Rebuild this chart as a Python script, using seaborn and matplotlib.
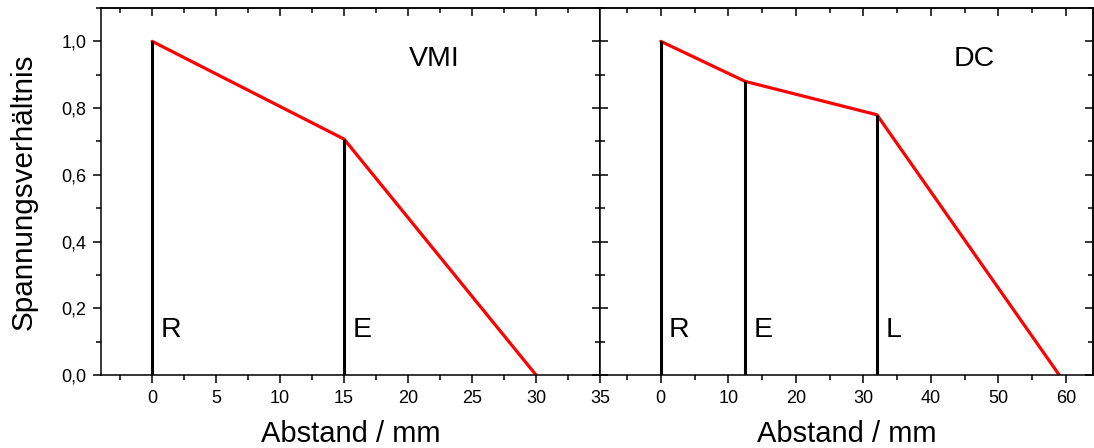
import numpy as np
import matplotlib
matplotlib.use('Agg')
import matplotlib.pyplot as plt
import seaborn as sns
from matplotlib.ticker import MultipleLocator, FuncFormatter, NullFormatter

# values
vmi_x = [0, 15, 30]
vmi_y = [1.0, 0.707, 0.0]
vmi_lines = [0, 15]
vmi_names = ['R', 'E']

dc_x = [0, 12.5, 32, 59]
dc_y = [1.0, 0.88, 0.78, 0.0]
dc_lines = [0, 12.5, 32]
dc_names = ['R', 'E', 'L']

sns.set_theme(style='ticks')
plt.rcParams['font.family'] = ['Liberation Sans', 'DejaVu Sans']

W, H = 1094, 448
fig = plt.figure(figsize=(W / 100, H / 100), dpi=100)


def box(l, r, t, b):
    return [l / W, 1 - b / H, (r - l) / W, (b - t) / H]


comma = FuncFormatter(lambda v, p: f'{v:.1f}'.replace('.', ','))


def panel(ax, xs, ys, lines, names, title, title_x, xlim, major, minor, left_dir):
    sns.lineplot(x=xs, y=ys, ax=ax, color='#ff0000', lw=2.3, sort=False)
    tops = np.interp(lines, xs, ys)
    ax.vlines(lines, 0, tops, color='black', lw=2.2)
    for x, n in zip(lines, names):
        ax.annotate(n, (x, 0.115), xytext=(6, 0), textcoords='offset points',
                    fontsize=20.5, color='black')
    ax.text(title_x, 0.925, title, fontsize=20.5, color='black')

    ax.set_xlim(*xlim)
    ax.set_ylim(0, 1.1)
    ax.xaxis.set_major_locator(MultipleLocator(major))
    ax.xaxis.set_minor_locator(MultipleLocator(minor))
    ax.yaxis.set_major_locator(MultipleLocator(0.2))
    ax.yaxis.set_minor_locator(MultipleLocator(0.1))
    ax.yaxis.set_major_formatter(comma)
    ax.tick_params(axis='x', which='both', direction='out', labelsize=13,
                   color='black', labelcolor='black', width=1.1)
    ax.tick_params(axis='y', which='both', direction=left_dir, labelsize=13,
                   color='black', labelcolor='black', width=1.1)
    ax.tick_params(which='major', length=5.5, pad=5)
    ax.tick_params(which='minor', length=3.5)
    for s in ax.spines.values():
        s.set_color('black')
        s.set_linewidth(1.1)

    top = ax.secondary_xaxis('top')
    top.xaxis.set_major_locator(MultipleLocator(major))
    top.xaxis.set_minor_locator(MultipleLocator(minor))
    top.xaxis.set_major_formatter(NullFormatter())
    top.tick_params(which='both', direction='in', color='black', width=1.1)
    top.tick_params(which='major', length=5.5)
    top.tick_params(which='minor', length=3.5)
    top.spines['top'].set_linewidth(1.1)
    top.spines['top'].set_color('black')

    right = ax.secondary_yaxis('right')
    right.yaxis.set_major_locator(MultipleLocator(0.2))
    right.yaxis.set_minor_locator(MultipleLocator(0.1))
    right.yaxis.set_major_formatter(NullFormatter())
    right.tick_params(which='both', direction='in', color='black', width=1.1)
    right.tick_params(which='major', length=5.5)
    right.tick_params(which='minor', length=3.5)
    right.spines['right'].set_linewidth(1.1)
    right.spines['right'].set_color('black')

    ax.set_xlabel('Abstand / mm', fontsize=21, color='black', labelpad=10)


ax1 = fig.add_axes(box(101, 600, 8, 375))
ax2 = fig.add_axes(box(600, 1093, 8, 375))

panel(ax1, vmi_x, vmi_y, vmi_lines, vmi_names, 'VMI', 20.1,
      (-4, 35), 5, 2.5, 'out')
panel(ax2, dc_x, dc_y, dc_lines, dc_names, 'DC', 43.4,
      (-9, 64), 10, 5, 'in')

ax1.set_ylabel('Spannungsverhältnis', fontsize=21.3, color='black', labelpad=17)
ax2.yaxis.set_major_formatter(NullFormatter())
ax2.set_ylabel('')

fig.savefig('out.png', dpi=100)
